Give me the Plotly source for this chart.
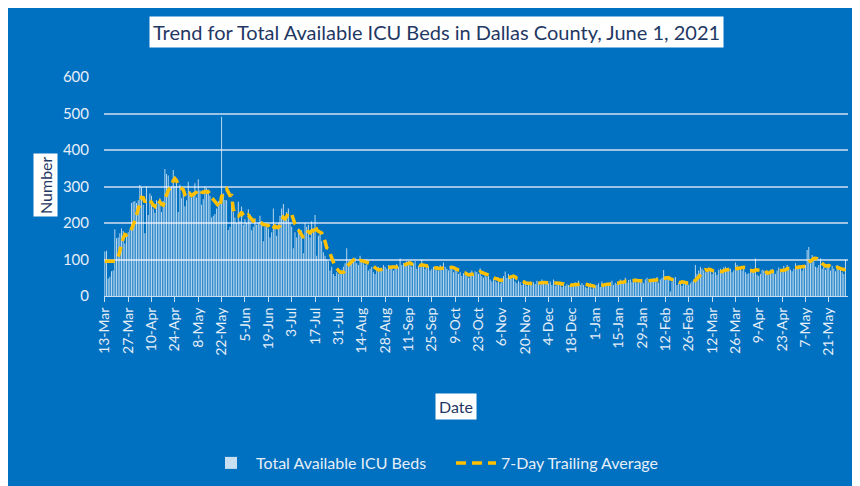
import pandas as pd
import plotly.graph_objects as go

# Daily values, 13-Mar-2020 .. 31-May-2021 (week by week)
available_beds = [
    122, 124, 48, 53, 68, 70, 183,
    158, 160, 172, 185, 178, 144, 170,
    175, 182, 255, 258, 260, 255, 262,
    304, 298, 250, 172, 300, 222, 281,
    275, 240, 228, 262, 255, 268, 230,
    260, 348, 334, 330, 295, 300, 345,
    300, 310, 230, 305, 268, 281, 246,
    262, 313, 286, 270, 284, 309, 270,
    320, 290, 250, 265, 300, 295, 282,
    275, 215, 220, 225, 240, 260, 258,
    491, 281, 263, 262, 181, 190, 258,
    230, 215, 200, 258, 205, 245, 195,
    210, 200, 238, 225, 180, 190, 210,
    195, 200, 220, 205, 150, 190, 200,
    185, 160, 175, 240, 190, 165, 200,
    220, 240, 252, 215, 230, 240, 200,
    190, 131, 175, 160, 185, 170, 180,
    117, 200, 190, 195, 160, 205, 185,
    222, 110, 165, 170, 150, 120, 110,
    100, 95, 70, 80, 60, 55, 65,
    60, 65, 72, 80, 90, 131, 95,
    100, 98, 95, 105, 90, 85, 110,
    95, 90, 85, 100, 70, 75, 80,
    65, 60, 70, 80, 75, 72, 85,
    80, 75, 85, 78, 82, 70, 76,
    88, 80, 103, 85, 90, 82, 95,
    96, 85, 80, 90, 95, 75, 82,
    78, 99, 80, 75, 85, 82, 70,
    75, 80, 72, 78, 70, 85, 76,
    92, 80, 75, 70, 82, 78, 65,
    75, 68, 60, 65, 55, 62, 58,
    55, 50, 65, 70, 60, 68, 66,
    60, 76, 55, 50, 58, 52, 55,
    45, 40, 48, 42, 38, 50, 35,
    45, 55, 67, 50, 60, 52, 48,
    50, 40, 35, 42, 38, 30, 36,
    35, 28, 32, 40, 30, 38, 33,
    42, 38, 30, 45, 35, 32, 40,
    35, 40, 30, 45, 28, 32, 38,
    30, 25, 35, 28, 32, 30, 26,
    35, 30, 38, 28, 42, 30, 35,
    30, 25, 22, 28, 35, 20, 25,
    28, 30, 35, 25, 40, 32, 30,
    35, 28, 38, 42, 30, 36, 33,
    40, 45, 38, 42, 50, 36, 44,
    45, 38, 42, 48, 36, 40, 44,
    40, 35, 45, 50, 38, 42, 46,
    48, 40, 52, 36, 45, 50, 71,
    55, 45, 50, 12, 40, 48, 52,
    30, 35, 38, 28, 42, 36, 40,
    30, 35, 40, 45, 85, 60, 70,
    80, 75, 70, 65, 72, 78, 68,
    60, 70, 65, 58, 72, 75, 68,
    78, 80, 70, 72, 75, 65, 70,
    92, 85, 75, 80, 70, 78, 65,
    60, 62, 75, 70, 68, 103, 58,
    55, 60, 72, 70, 65, 62, 58,
    72, 75, 68, 60, 70, 78, 65,
    70, 82, 75, 85, 80, 72, 68,
    75, 90, 80, 85, 82, 70, 78,
    85, 126, 134, 90, 112, 95, 80,
    78, 85, 103, 75, 80, 72, 88,
    80, 70, 82, 75, 68, 85, 78,
    72, 65, 60, 99,
]

dates = pd.date_range("2020-03-13", periods=len(available_beds), freq="D")
trailing_avg = pd.Series(available_beds, index=dates).rolling(7).mean().bfill()

tick_dates = pd.date_range("2020-03-13", "2021-05-31", freq="14D")
tick_labels = [f"{d.day}-{d.strftime('%b')}" for d in tick_dates]

BLUE = "#0070C0"
TXT = "#1F3864"
FONT = "Lato"

# page offset of the figure (body margin)
OFF = 8
# plot area in page pixels: x 104..848, y 77..296
PX0, PX1, PY0, PY1 = 104, 848, 77, 296
L, T = PX0 - OFF, PY0 - OFF
R, B = 860 - (PX1 - OFF), 486 - (PY1 - OFF)
PW, PH = PX1 - PX0, PY1 - PY0


def px(x):
    return (x - PX0) / PW


def py(y):
    return (PY1 - y) / PH


fig = go.Figure()
fig.add_trace(go.Bar(
    x=dates, y=available_beds, name="Total Available ICU Beds",
    marker=dict(color="rgba(255,255,255,0.78)", line=dict(width=0)),
))
fig.add_trace(go.Scatter(
    x=dates, y=trailing_avg.values, name="7-Day Trailing Average", mode="lines",
    line=dict(color="#FFC000", width=3.5, dash="10px,6px"),
))

fig.update_layout(
    width=860, height=486,
    margin=dict(l=L, r=R, t=T, b=B, autoexpand=False),
    paper_bgcolor=BLUE, plot_bgcolor=BLUE,
    bargap=0.45,
    font=dict(family=FONT, color="#E6EEF8"),
    showlegend=True,
    legend=dict(orientation="h", x=px(206), xanchor="left", y=py(463), yanchor="middle",
                font=dict(size=16, color="#E6EEF8"), bgcolor="rgba(0,0,0,0)",
                itemwidth=40, entrywidth=190),
    xaxis=dict(
        range=[dates[0] - pd.Timedelta(hours=12), dates[-1] + pd.Timedelta(hours=36)],
        tickvals=tick_dates, ticktext=tick_labels, tickangle=-90,
        tickfont=dict(size=14, color="#E6EEF8"),
        showgrid=False, showline=True, linecolor="#C9DCF0", linewidth=1,
        ticks="outside", ticklen=5, tickcolor="#C9DCF0", automargin=False,
    ),
    yaxis=dict(
        range=[0, 600], tickvals=[0, 100, 200, 300, 400, 500, 600],
        tickfont=dict(size=15, color="#E6EEF8"),
        showgrid=True, gridcolor="#9DC3E6", gridwidth=1.5,
        zeroline=False, ticks="", ticklabelstandoff=14, automargin=False,
    ),
    annotations=[
        dict(text="Trend for Total Available ICU Beds in Dallas County, June 1, 2021",
             x=px(436), y=py(32), xref="paper", yref="paper", xanchor="center", yanchor="middle",
             showarrow=False, font=dict(family=FONT, size=20, color=TXT), bgcolor="#FFFFFF", borderpad=3),
        dict(text="Number", x=px(45), y=py(185), xref="paper", yref="paper", xanchor="center", yanchor="middle",
             showarrow=False, textangle=-90, font=dict(family=FONT, size=16, color=TXT),
             bgcolor="#FFFFFF", borderpad=2),
        dict(text="Date", x=px(456), y=py(406), xref="paper", yref="paper", xanchor="center", yanchor="middle",
             showarrow=False, font=dict(family=FONT, size=16, color=TXT), bgcolor="#FFFFFF", borderpad=3),
    ],
)

fig.write_html("out.html")
